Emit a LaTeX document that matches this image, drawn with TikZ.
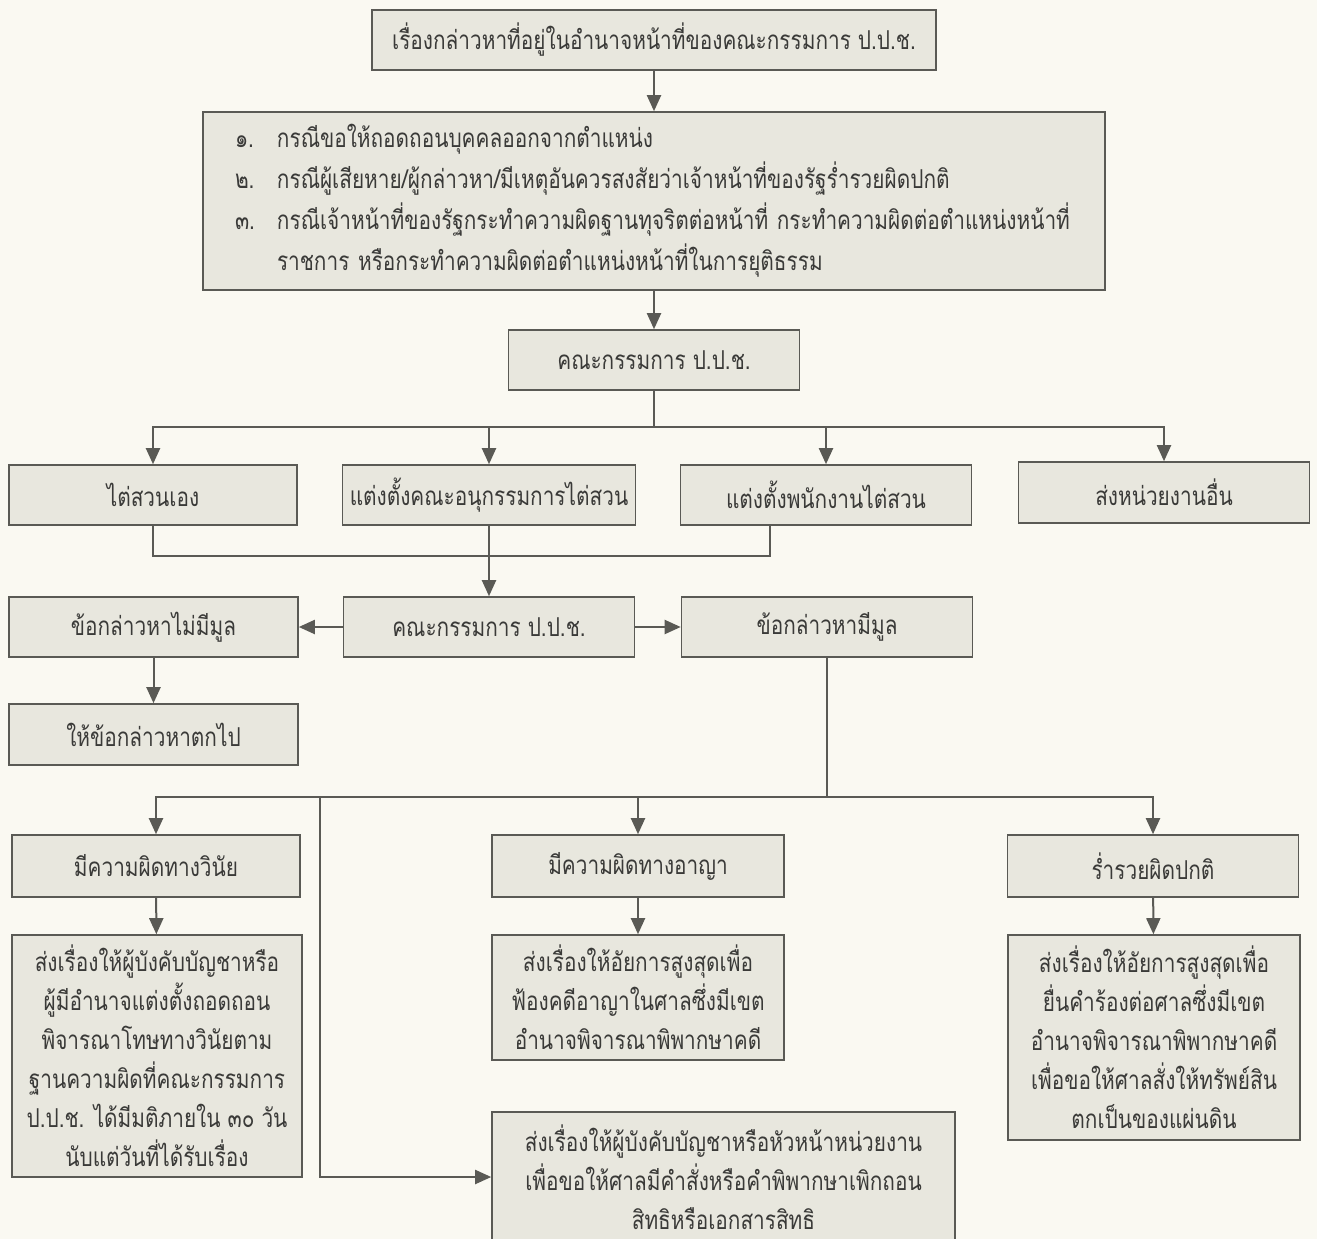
\documentclass[tikz,border=0pt]{standalone}
\usepackage{fontspec}
\newfontfamily\thaifont[Script=Thai,FakeStretch=0.8]{Loma}
\usetikzlibrary{arrows.meta}
\definecolor{boxfill}{HTML}{E8E7DE}
\definecolor{boxline}{HTML}{5A5A55}
\definecolor{paper}{HTML}{FAF9F2}
\definecolor{ink}{HTML}{3A3A38}

\begin{document}
\begin{tikzpicture}[x=1pt,y=-1pt,
  box/.style={draw=boxline,fill=boxfill,line width=1.6pt,text=ink,inner sep=0pt,
    font=\thaifont\fontsize{26}{39}\selectfont,align=center},
  wire/.style={draw=boxline,line width=2pt},
  arr/.style={wire,-{Triangle[length=16pt,width=14pt]}}]
  \fill[paper] (0,0) rectangle (1317,1239);
  \useasboundingbox (0,0) rectangle (1317,1239);

  \node[box,minimum width=564pt,minimum height=60pt] (top) at (654,40)
    {เรื่องกล่าวหาที่อยู่ในอำนาจหน้าที่ของคณะกรรมการ ป.ป.ช.};
  \node[box,minimum width=902pt,minimum height=178pt,text width=838pt,align=left] (cases) at (654,201)
    {\fontsize{26}{41}\selectfont\begin{tabular}{@{}l@{\hspace{22pt}}l@{}}
      ๑. & กรณีขอให้ถอดถอนบุคคลออกจากตำแหน่ง\\
      ๒. & กรณีผู้เสียหาย/ผู้กล่าวหา/มีเหตุอันควรสงสัยว่าเจ้าหน้าที่ของรัฐร่ำรวยผิดปกติ\\
      ๓. & กรณีเจ้าหน้าที่ของรัฐกระทำความผิดฐานทุจริตต่อหน้าที่ กระทำความผิดต่อตำแหน่งหน้าที่\\
         & ราชการ หรือกระทำความผิดต่อตำแหน่งหน้าที่ในการยุติธรรม
    \end{tabular}};
  \node[box,minimum width=291pt,minimum height=60pt] (ppc1) at (654,360) {คณะกรรมการ ป.ป.ช.};

  \node[box,minimum width=288pt,minimum height=60pt] (self) at (153,495) {ไต่สวนเอง};
  \node[box,minimum width=293pt,minimum height=60pt] (subcom) at (489,495) {แต่งตั้งคณะอนุกรรมการไต่สวน};
  \node[box,minimum width=291pt,minimum height=60pt] (officer) at (826,495) {แต่งตั้งพนักงานไต่สวน};
  \node[box,minimum width=291pt,minimum height=61pt] (other) at (1164,492.5) {ส่งหน่วยงานอื่น};

  \node[box,minimum width=289pt,minimum height=60pt] (nobasis) at (153.5,627) {ข้อกล่าวหาไม่มีมูล};
  \node[box,minimum width=291pt,minimum height=60pt] (ppc2) at (489,627) {คณะกรรมการ ป.ป.ช.};
  \node[box,minimum width=291pt,minimum height=60pt] (basis) at (827,627) {ข้อกล่าวหามีมูล};
  \node[box,minimum width=289pt,minimum height=61pt] (drop) at (153.5,734.5) {ให้ข้อกล่าวหาตกไป};

  \node[box,minimum width=288pt,minimum height=62pt] (disc) at (156,866) {มีความผิดทางวินัย};
  \node[box,minimum width=292pt,minimum height=62pt] (crim) at (638,866) {มีความผิดทางอาญา};
  \node[box,minimum width=291pt,minimum height=62pt] (rich) at (1153,866) {ร่ำรวยผิดปกติ};

  \node[box,minimum width=290pt,minimum height=242pt] (discto) at (157,1056)
    {ส่งเรื่องให้ผู้บังคับบัญชาหรือ\\ผู้มีอำนาจแต่งตั้งถอดถอน\\พิจารณาโทษทางวินัยตาม\\ฐานความผิดที่คณะกรรมการ\\ป.ป.ช. ได้มีมติภายใน ๓๐ วัน\\นับแต่วันที่ได้รับเรื่อง};
  \node[box,minimum width=292pt,minimum height=125pt] (crimto) at (638,997.5)
    {ส่งเรื่องให้อัยการสูงสุดเพื่อ\\ฟ้องคดีอาญาในศาลซึ่งมีเขต\\อำนาจพิจารณาพิพากษาคดี};
  \node[box,minimum width=292pt,minimum height=205pt] (richto) at (1154,1037.5)
    {ส่งเรื่องให้อัยการสูงสุดเพื่อ\\ยื่นคำร้องต่อศาลซึ่งมีเขต\\อำนาจพิจารณาพิพากษาคดี\\เพื่อขอให้ศาลสั่งให้ทรัพย์สิน\\ตกเป็นของแผ่นดิน};
  \node[box,minimum width=463pt,minimum height=130pt] (revoke) at (723.5,1177)
    {ส่งเรื่องให้ผู้บังคับบัญชาหรือหัวหน้าหน่วยงาน\\เพื่อขอให้ศาลมีคำสั่งหรือคำพิพากษาเพิกถอน\\สิทธิหรือเอกสารสิทธิ};

  \coordinate (bus1) at (654,427);
  \coordinate (merge) at (770,556);
  \coordinate (bus2) at (827,797);
  \coordinate (turn) at (320,1177);

  \draw[arr] (top) -- (cases);
  \draw[arr] (cases) -- (ppc1);
  \draw[wire] (ppc1) -- (bus1);
  \draw[arr] (bus1) -| (self);
  \draw[arr] (bus1) -| (subcom);
  \draw[arr] (bus1) -| (officer);
  \draw[arr] (bus1) -| (other);
  \draw[wire] (self) |- (merge) -- (merge |- officer.south);
  \draw[arr] (subcom) -- (ppc2);
  \draw[arr] (ppc2) -- (nobasis);
  \draw[arr] (ppc2) -- (basis);
  \draw[arr] (nobasis) -- (drop);
  \draw[wire] (basis) -- (bus2);
  \draw[arr] (bus2) -| (disc);
  \draw[arr] (bus2) -| (crim);
  \draw[arr] (bus2) -| (rich);
  \draw[arr] (bus2) -| (turn) -- (revoke);
  \draw[arr] (disc) -- (discto);
  \draw[arr] (crim) -- (crimto);
  \draw[arr] (rich) -- (richto);
\end{tikzpicture}
\end{document}
